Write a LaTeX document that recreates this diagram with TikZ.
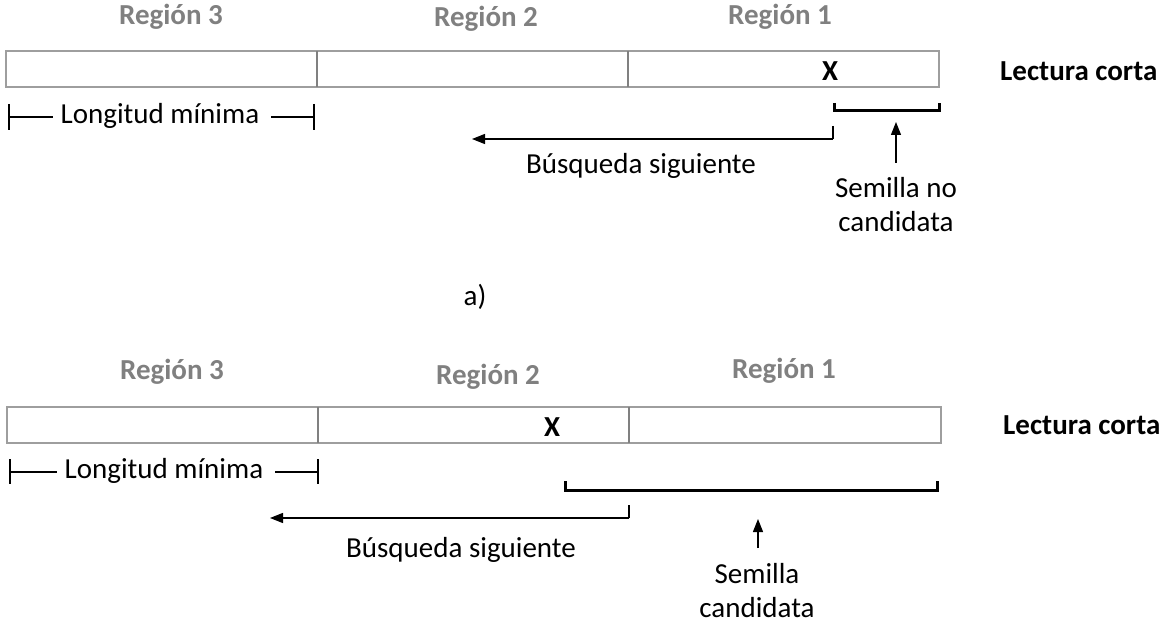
\documentclass[tikz,border=0pt]{standalone}
\usepackage{fontspec}
\setmainfont{Carlito}
\usetikzlibrary{arrows.meta}
\begin{document}
\begin{tikzpicture}[x=1pt,y=-1pt,
  reg/.style={font=\fontsize{29}{34}\selectfont\bfseries, text=black!50, inner sep=0pt},
  lbl/.style={font=\fontsize{29}{34}\selectfont, inner sep=0pt, align=center},
  blbl/.style={font=\fontsize{29}{34}\selectfont\bfseries, inner sep=0pt},
  barline/.style={draw=black!38, line width=2.2pt},
  divline/.style={draw=black!50, line width=2pt},
  thin/.style={draw=black, line width=1.2pt},
  brk/.style={draw=black, line width=3pt},
  arr/.style={draw=black, line width=1.2pt, -{Triangle[length=13pt,width=10pt]}}]
\useasboundingbox (0,0) rectangle (1162,623);
% ---------- a) ----------
\node[reg] (r3a) at (171,17) {Región 3};
\node[reg] (r2a) at (486,19) {Región 2};
\node[reg] (r1a) at (780,17) {Región 1};
\draw[barline] (6,51) rectangle (939,87);
\draw[divline] (317,51) -- (317,87);
\draw[divline] (628,51) -- (628,87);
\node[blbl] (xa) at (830,71) {X};
\node[blbl, anchor=west] (lca) at (1000,71) {Lectura corta};
\node[lbl] (lma) at (160,116) {Longitud mínima};
\coordinate (lmaL) at (9,117);
\coordinate (lmaR) at (314,117);
\draw[thin] (9,104) -- (9,130);
\draw[thin] (314,104) -- (314,130);
\draw[thin] (lmaL) -- ([xshift=-8pt]lma.west |- lmaL);
\draw[thin] ([xshift=12pt]lma.east |- lmaR) -- (lmaR);
\coordinate (bka1) at (834,103);
\coordinate (bka2) at (939,103);
\draw[brk] (bka1) -- (834,111) -- (939,111) -- (bka2);
\coordinate (sta) at (833,126);
\coordinate (sca) at (833,139);
\coordinate (sea) at (472,139);
\draw[thin] (sta) -- (sca);
\draw[arr] (sca) -- (sea);
\node[lbl] (bsa) at (641,166) {Búsqueda siguiente};
\node[lbl] (sma) at (896,205) {Semilla no\\candidata};
\coordinate (upa1) at (896,163);
\coordinate (upa2) at (896,122);
\draw[arr] (upa1) -- (upa2);
\node[lbl] (aa) at (475,297) {a)};
% ---------- b) ----------
\node[reg] (r3b) at (172,372) {Región 3};
\node[reg] (r2b) at (488,377) {Región 2};
\node[reg] (r1b) at (784,371) {Región 1};
\draw[barline] (7,407) rectangle (941,443);
\draw[divline] (318,407) -- (318,443);
\draw[divline] (629,407) -- (629,443);
\node[blbl] (xb) at (552,427) {X};
\node[blbl, anchor=west] (lcb) at (1003,425) {Lectura corta};
\node[lbl] (lmb) at (164,471) {Longitud mínima};
\coordinate (lmbL) at (10,472);
\coordinate (lmbR) at (318,472);
\draw[thin] (10,459) -- (10,484);
\draw[thin] (318,459) -- (318,484);
\draw[thin] (lmbL) -- ([xshift=-8pt]lmb.west |- lmbL);
\draw[thin] ([xshift=12pt]lmb.east |- lmbR) -- (lmbR);
\draw[brk] (565,481) -- (565,490) -- (937,490) -- (937,481);
\coordinate (stb) at (629,505);
\coordinate (scb) at (629,518);
\coordinate (seb) at (270,518);
\draw[thin] (stb) -- (scb);
\draw[arr] (scb) -- (seb);
\node[lbl] (bsb) at (461,550) {Búsqueda siguiente};
\node[lbl] (smb) at (757,591) {Semilla\\candidata};
\coordinate (upb1) at (758,548);
\coordinate (upb2) at (758,519);
\draw[arr] (upb1) -- (upb2);
\end{tikzpicture}
\end{document}
